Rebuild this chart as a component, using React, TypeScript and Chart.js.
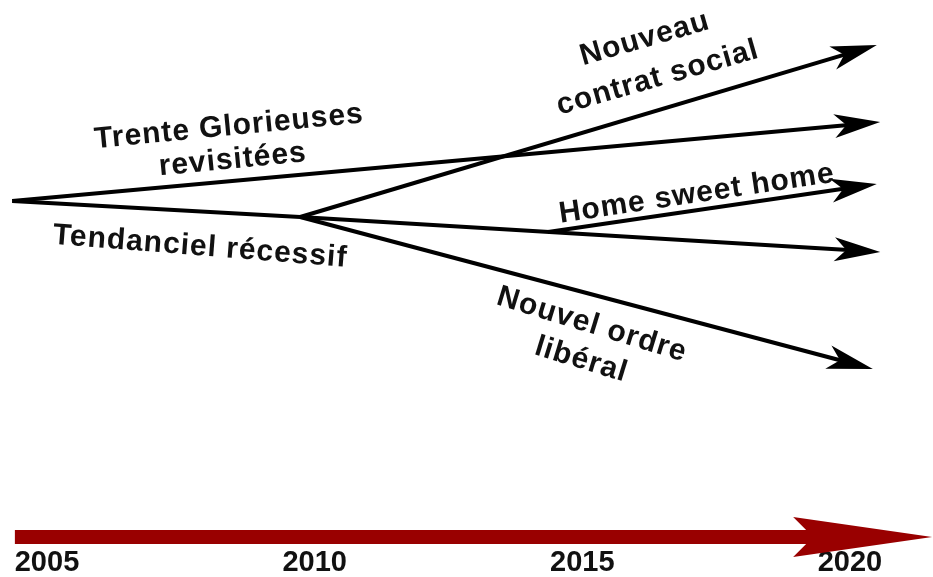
import React, { useEffect, useRef } from "react";
import { Chart, registerables } from "chart.js";

Chart.register(...registerables);

// x = year, y = relative level (arbitrary units of the scenario diagram)
const yearTicks = [2005, 2010, 2015, 2020];

const origin = { x: 2004.35, y: 0 };
const branch = { x: 2009.73, y: -1.6 };

const trenteGlorieuses = [origin, { x: 2019.97, y: 7.61 }];
const tendancielRecessif = [origin, branch, { x: 2019.97, y: -4.91 }];
const nouveauContratSocial = [branch, { x: 2019.93, y: 14.69 }];
const homeSweetHome = [{ x: 2014.36, y: -3.1 }, { x: 2019.91, y: 1.24 }];
const nouvelOrdreLiberal = [branch, { x: 2019.85, y: -15.98 }];
const timeline = [{ x: 2004.4, y: -33.6 }, { x: 2019.35, y: -33.6 }];

const labelTexts = [
  "Trente Glorieuses",
  "revisitées",
  "Tendanciel récessif",
  "Nouveau",
  "contrat social",
  "Home sweet home",
  "Nouvel ordre",
  "libéral",
];
const labelYears = [2008.4, 2008.47, 2007.86, 2016.17, 2016.41, 2017.14, 2015.18, 2014.98];
const labelLevels = [7.4, 4.1, -4.6, 16.2, 12.3, 0.7, -12.4, -15.9];
const labelAngles = [-5.5, -5.5, 4.5, -16, -16, -8.5, 17, 17];

const BLACK = "#000000";
const DARK_RED = "#990000";

const arrowPlugin = {
  id: "arrowHeads",
  afterDatasetsDraw(chart: any) {
    const ctx = chart.ctx;
    chart.data.datasets.forEach((ds: any, i: number) => {
      const head = ds.arrowHead;
      if (!head) return;
      const meta = chart.getDatasetMeta(i);
      const pts = meta.data;
      if (pts.length < 2) return;
      const a = pts[pts.length - 2];
      const b = pts[pts.length - 1];
      const dx = b.x - a.x;
      const dy = b.y - a.y;
      const len = Math.hypot(dx, dy) || 1;
      const ux = dx / len;
      const uy = dy / len;
      const nx = -uy;
      const ny = ux;
      const tipX = b.x + ux * head.len;
      const tipY = b.y + uy * head.len;
      const backX = tipX - ux * head.back;
      const backY = tipY - uy * head.back;
      ctx.save();
      ctx.fillStyle = ds.borderColor;
      ctx.beginPath();
      ctx.moveTo(tipX, tipY);
      ctx.lineTo(backX + nx * head.half, backY + ny * head.half);
      ctx.lineTo(b.x - ux * 2, b.y - uy * 2);
      ctx.lineTo(backX - nx * head.half, backY - ny * head.half);
      ctx.closePath();
      ctx.fill();
      ctx.restore();
    });
  },
};

const labelPlugin = {
  id: "scenarioLabels",
  afterDraw(chart: any) {
    const ctx = chart.ctx;
    const xs = chart.scales.x;
    const ys = chart.scales.y;
    ctx.save();
    ctx.fillStyle = "#111111";
    ctx.font = "bold 30px 'Liberation Sans', Arial, sans-serif";
    (ctx as any).letterSpacing = "1px";
    ctx.textAlign = "center";
    ctx.textBaseline = "middle";
    labelTexts.forEach((t, i) => {
      const px = xs.getPixelForValue(labelYears[i]);
      const py = ys.getPixelForValue(labelLevels[i]);
      ctx.save();
      ctx.translate(px, py);
      ctx.rotate((labelAngles[i] * Math.PI) / 180);
      ctx.fillText(t, 0, 0);
      ctx.restore();
    });
    ctx.restore();
  },
};

function lineDs(label: string, data: any[], color: string, width: number, head: any) {
  return {
    label,
    data,
    showLine: true,
    borderColor: color,
    backgroundColor: color,
    borderWidth: width,
    pointRadius: 0,
    pointHoverRadius: 0,
    fill: false,
    tension: 0,
    borderCapStyle: "butt",
    borderJoinStyle: "round",
    arrowHead: head,
  };
}

export default function App() {
  const canvasRef = useRef<HTMLCanvasElement | null>(null);

  useEffect(() => {
    const canvas = canvasRef.current;
    if (!canvas) return;
    const blackHead = { len: 32, back: 46, half: 12 };
    const chart = new Chart(canvas, {
      type: "scatter",
      data: {
        datasets: [
          lineDs("Trente Glorieuses revisitées", trenteGlorieuses, BLACK, 4, blackHead),
          lineDs("Tendanciel récessif", tendancielRecessif, BLACK, 4, blackHead),
          lineDs("Nouveau contrat social", nouveauContratSocial, BLACK, 4, blackHead),
          lineDs("Home sweet home", homeSweetHome, BLACK, 4, blackHead),
          lineDs("Nouvel ordre libéral", nouvelOrdreLiberal, BLACK, 4, blackHead),
          lineDs("Temps", timeline, DARK_RED, 14, { len: 117, back: 139, half: 20 }),
        ] as any,
      },
      options: {
        animation: false,
        responsive: true,
        maintainAspectRatio: false,
        layout: { padding: 0 },
        plugins: {
          legend: { display: false },
          tooltip: { enabled: false },
          title: { display: false },
        },
        scales: {
          x: {
            type: "linear",
            min: 2004.122,
            max: 2021.552,
            grid: { display: false, drawTicks: false },
            border: { display: false },
            afterBuildTicks: (scale: any) => {
              scale.ticks = yearTicks.map((v) => ({ value: v }));
            },
            ticks: {
              padding: 0,
              color: "#111111",
              font: { family: "'Liberation Sans', Arial, sans-serif", size: 29, weight: "bold", lineHeight: 1 },
              callback: (v: any) => String(v),
              maxRotation: 0,
              autoSkip: false,
            },
          },
          y: {
            display: false,
            min: -34.7,
            max: 20.1,
          },
        },
      } as any,
      plugins: [arrowPlugin, labelPlugin],
    });
    return () => chart.destroy();
  }, []);

  return (
    <div style={{ position: "fixed", left: 0, top: 0, width: 933, height: 577, background: "#ffffff" }}>
      <canvas ref={canvasRef} />
    </div>
  );
}
